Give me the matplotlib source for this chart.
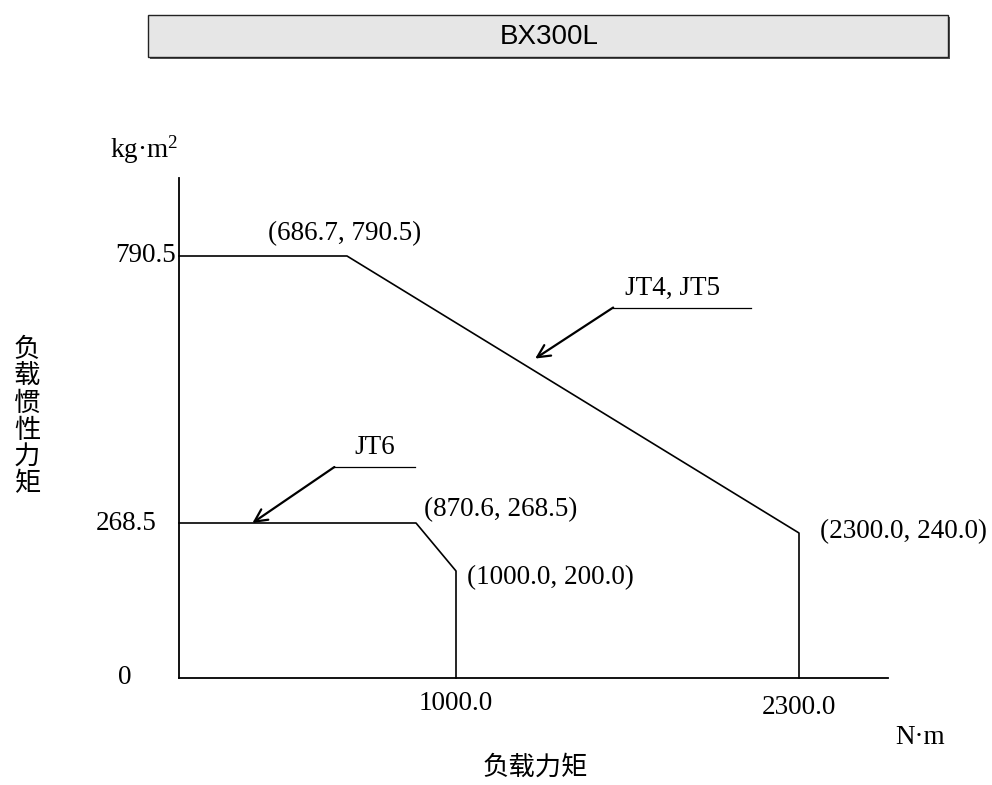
import numpy as np
import matplotlib.pyplot as plt
from matplotlib.patches import Rectangle

# Data
title = "BX300L"
jt45_x = [0.0, 686.7, 2300.0, 2300.0]
jt45_y = [790.5, 790.5, 240.0, 0.0]
jt6_x = [0.0, 870.6, 1000.0, 1000.0]
jt6_y = [268.5, 268.5, 200.0, 0.0]
x_ticks = [1000.0, 2300.0]
y_ticks = [0.0, 268.5, 790.5]
corner_labels = [(686.7, 790.5), (870.6, 268.5), (1000.0, 200.0), (2300.0, 240.0)]
series_names = ["JT4, JT5", "JT6"]
series_targets = [(1300.0, 590.0), (300.0, 268.5)]
xlabel = "负载力矩"
ylabel = "负载惯性力矩"

# the drawing is schematic, not to scale: piecewise linear axes
x_knots = [0.0, 686.7, 870.6, 1000.0, 2300.0, 2600.0]
x_pos = [0, 168, 237, 277, 620, 709]
y_knots = [0.0, 200.0, 240.0, 268.5, 790.5, 950.0]
y_pos = [0, 107, 145, 155, 422, 500]

def fx(v):
    return np.interp(v, x_knots, x_pos)

def fx_inv(v):
    return np.interp(v, x_pos, x_knots)

def fy(v):
    return np.interp(v, y_knots, y_pos)

def fy_inv(v):
    return np.interp(v, y_pos, y_knots)

plt.rcParams['mathtext.fontset'] = 'custom'
plt.rcParams['mathtext.rm'] = 'Liberation Serif'
plt.rcParams['mathtext.it'] = 'Liberation Serif'

W, H = 992, 785
fig = plt.figure(figsize=(W / 100, H / 100), dpi=100)
ax = fig.add_axes([179 / W, (H - 678) / H, 709 / W, 500 / H])
ax.set_xscale('function', functions=(fx, fx_inv))
ax.set_yscale('function', functions=(fy, fy_inv))
ax.set_xlim(0, 2600)
ax.set_ylim(0, 950)
ax.set_xticks([])
ax.set_yticks([])
ax.minorticks_off()
for s in ['top', 'right']:
    ax.spines[s].set_visible(False)
for s in ['left', 'bottom']:
    ax.spines[s].set_linewidth(1.3)
ax.patch.set_alpha(0)

serif = 'Liberation Serif'
fs = 19.5

ax.plot(jt45_x, jt45_y, color='black', lw=1.2, clip_on=False)
ax.plot(jt6_x, jt6_y, color='black', lw=1.2, clip_on=False)

# tick labels
tick_off = {1000.0: (0, -26), 2300.0: (0, -30)}
for xv in x_ticks:
    ax.annotate(f"{xv:.1f}", (xv, 0), xytext=tick_off[xv], textcoords='offset pixels',
                ha='center', va='center', family=serif, fontsize=fs)
ytick_off = {0.0: (-54, 0), 268.5: (-53, 0), 790.5: (-33, 0)}
for yv in y_ticks:
    lab = "0" if yv == 0 else f"{yv:.1f}"
    ax.annotate(lab, (0, yv), xytext=ytick_off[yv], textcoords='offset pixels',
                ha='center', va='center', family=serif, fontsize=fs)

# units
ax.annotate("kg·m$^{2}$", (0, 950), xytext=(-35, 28), textcoords='offset pixels',
            ha='center', va='center', family=serif, fontsize=fs)
ax.annotate("N·m", (2600, 0), xytext=(32, -59), textcoords='offset pixels',
            ha='center', va='center', family=serif, fontsize=fs)

# corner point labels
label_off = [(-2, 22, 'center'), (8, 13, 'left'), (11, -7, 'left'), (21, 1, 'left')]
for (px, py), (dx, dy, ha) in zip(corner_labels, label_off):
    ax.annotate(f"({px:.1f}, {py:.1f})", (px, py), xytext=(dx, dy), textcoords='offset pixels',
                ha=ha, va='center', family=serif, fontsize=fs)

# series call-outs
arrow_off = [(78, 51), (82, 56)]
leader_len = [138, 81]
text_off = [(137, 70), (122, 75)]
for name, tgt, ao, ll, to in zip(series_names, series_targets, arrow_off, leader_len, text_off):
    ax.annotate("", xy=tgt, xytext=ao, textcoords='offset pixels',
                arrowprops=dict(arrowstyle='->,head_length=0.9,head_width=0.45',
                                color='black', lw=1.6, shrinkA=0, shrinkB=0))
    tx, ty = ax.transData.transform(tgt)
    x0, y0 = tx + ao[0], ty + ao[1]
    fig.add_artist(plt.Line2D([x0 / W, (x0 + ll) / W], [y0 / H, y0 / H],
                              color='black', lw=0.9))
    ax.annotate(name, tgt, xytext=to, textcoords='offset pixels',
                ha='center', va='center', family=serif, fontsize=fs)

# title box
fig.add_artist(Rectangle((150 / W, (H - 59) / H), 800 / W, 42 / H,
                         transform=fig.transFigure, facecolor='#555555', edgecolor='none'))
fig.add_artist(Rectangle((148 / W, (H - 57) / H), 800 / W, 42 / H,
                         transform=fig.transFigure, facecolor='#e6e6e6',
                         edgecolor='#222222', lw=1.0))
fig.text(549 / W, (H - 37) / H, title, ha='center', va='center',
         family='Liberation Sans', fontsize=20)

# axis titles
cjk = ['Noto Sans CJK SC', 'DejaVu Sans']
fig.text(535 / W, (H - 767) / H, xlabel, ha='center', va='center', family=cjk, fontsize=19)
for i, ch in enumerate(ylabel):
    fig.text(27 / W, (H - (350 + i * 26.7)) / H, ch, ha='center', va='center',
             family=cjk, fontsize=19)

fig.savefig("out.png", dpi=100)
